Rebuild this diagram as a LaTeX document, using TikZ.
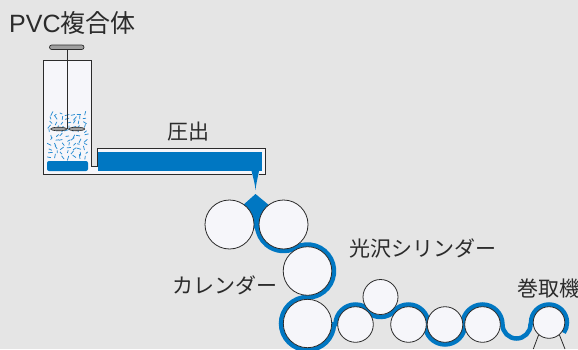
\documentclass[tikz,border=0pt]{standalone}
\usepackage{fontspec}
\setmainfont{Noto Sans CJK JP}
\newfontfamily\latinsans{Liberation Sans}
\usetikzlibrary{calc}
\definecolor{sheet}{RGB}{0,119,194}
\definecolor{chip}{RGB}{40,140,210}
\definecolor{paper}{RGB}{229,229,229}
\definecolor{shell}{RGB}{246,246,250}
\definecolor{ink}{RGB}{43,43,43}
\pgfdeclarelayer{back}
\pgfdeclarelayer{belt}
\pgfsetlayers{back,belt,main}

\begin{document}
\begin{tikzpicture}[x=1pt,y=1pt,
	roll/.style={circle,draw=ink,fill=shell,line width=.8pt,inner sep=0pt,minimum size=#1},
	tag/.style={text=ink,inner sep=0pt,font=\fontsize{21}{21}\selectfont},
	band/.style={draw=sheet,line width=4.5pt}]
	\useasboundingbox (0,0) rectangle (578,349);
	\clip (0,0) rectangle (578,349);
	\begin{pgfonlayer}{back}
		\fill[paper] (0,0) rectangle (578,349);
	\end{pgfonlayer}

	% labels
	\node[tag,anchor=west,font=\fontsize{25}{25}\selectfont] (title) at (9,326) {{\latinsans PVC}複合体};
	\node[tag] (press) at (188,217.5) {圧出};
	\node[tag] (gloss) at (422.5,101) {光沢シリンダー};
	\node[tag] (calender) at (225,64) {カレンダー};
	\node[tag,anchor=west] (reel) at (517,60) {巻取機};

	% tank and die
	\fill[shell] (43,288.3) -- (91.5,288.3) -- (91.5,183) -- (97,183) -- (97,200.5)
		-- (265,200.5) -- (265,174.5) -- (43,174.5) -- cycle;
	\fill[sheet,rounded corners=2pt] (47,178) rectangle (88,188);
	\fill[sheet] (98,178) rectangle (262,197);
	\fill[sheet] (251.5,178) .. controls (253.5,170) and (255,165) .. (255.5,159)
		.. controls (256,165) and (257.5,170) .. (259,178) -- cycle;
	\draw[ink,line width=.8pt] (251.5,174.5) -- (43,174.5) -- (43,288.3) -- (91.5,288.3)
		-- (91.5,183) -- (97,183) -- (97,200.5) -- (265,200.5) -- (265,174.5) -- (259,174.5);

	% resin chips, a jittered grid
	\pgfmathsetseed{23}
	\foreach \row in {0,...,10}{
		\foreach \col in {0,...,6}{
			\pgfmathsetmacro\px{50.5+5.8*\col+3*rnd-1.5}
			\pgfmathsetmacro\py{192+4.3*\row+2.4*rnd-1.2}
			\pgfmathsetmacro\pa{180*rnd}
			\pgfmathsetmacro\pl{1.3+1.1*rnd}
			\pgfmathsetmacro\ax{\px-\pl*cos(\pa)}
			\pgfmathsetmacro\ay{\py-\pl*sin(\pa)}
			\pgfmathsetmacro\bx{\px+\pl*cos(\pa)}
			\pgfmathsetmacro\by{\py+\pl*sin(\pa)}
			\draw[chip,line width=.75pt] (\ax,\ay) -- (\bx,\by);
		}
	}

	% stirrer
	\draw[ink,line width=.7pt] (67.3,302) -- (67.3,220);
	\draw[ink,fill=gray!75,line width=.7pt,rounded corners=2.2pt] (49.5,299.5) rectangle (84,304);
	\draw[ink,fill=gray!75,line width=.6pt] (58.7,220) ellipse [x radius=8pt,y radius=1.8pt];
	\draw[ink,fill=gray!75,line width=.6pt] (76.7,220) ellipse [x radius=8pt,y radius=1.8pt];

	% rolls
	\node[roll=49pt] (cal1) at (229.5,124.5) {};
	\node[roll=49pt] (cal2) at (283.5,124.5) {};
	\node[roll=48.6pt] (cal3) at (307.5,78) {};
	\node[roll=48.4pt] (cal4) at (307.5,25.5) {};
	\node[roll=35.6pt] (gl1) at (355.5,24.5) {};
	\node[roll=35pt] (gl2) at (380.5,52) {};
	\node[roll=35.6pt] (gl3) at (408.5,24.5) {};
	\node[roll=35.6pt] (gl4) at (445,24.5) {};
	\node[roll=35.6pt] (gl5) at (482.5,24.5) {};
	\node[roll=31.6pt] (winder) at (549,26.5) {};

	% sheet
	\begin{pgfonlayer}{belt}
		\draw[ink,line width=.8pt] (winder.-130) -- (533.3,0);
		\draw[ink,line width=.8pt] (winder.-50) -- (565,0);
		\fill[sheet] (255.5,155) -- (242,143) -- (256,118) -- (270,143) -- cycle;
		\draw[band] ($(cal2.center)+(140:26.5pt)$) arc[start angle=140,end angle=297.3,radius=26.5pt]
			-- ($(cal3.center)+(117.3:26.5pt)$) arc[start angle=117.3,end angle=-90,radius=26.5pt]
			-- ($(cal4.center)+(90:26.5pt)$) arc[start angle=90,end angle=358.8,radius=26.5pt]
			-- ($(gl1.center)+(178.8:20pt)$) arc[start angle=178.8,end angle=47.7,radius=20pt]
			-- ($(gl2.center)+(227.7:20pt)$) arc[start angle=227.7,end angle=315.5,radius=20pt]
			-- ($(gl3.center)+(135.5:20pt)$) arc[start angle=135.5,end angle=0,radius=20pt]
			-- ($(gl4.center)+(180:20pt)$) arc[start angle=180,end angle=360,radius=20pt]
			-- ($(gl5.center)+(180:20pt)$) arc[start angle=180,end angle=0,radius=20pt]
			arc[start angle=180,end angle=360,radius=14pt]
			-- ($(winder.center)+(180:18pt)$) arc[start angle=180,end angle=-35,radius=18pt];
	\end{pgfonlayer}
\end{tikzpicture}
\end{document}
